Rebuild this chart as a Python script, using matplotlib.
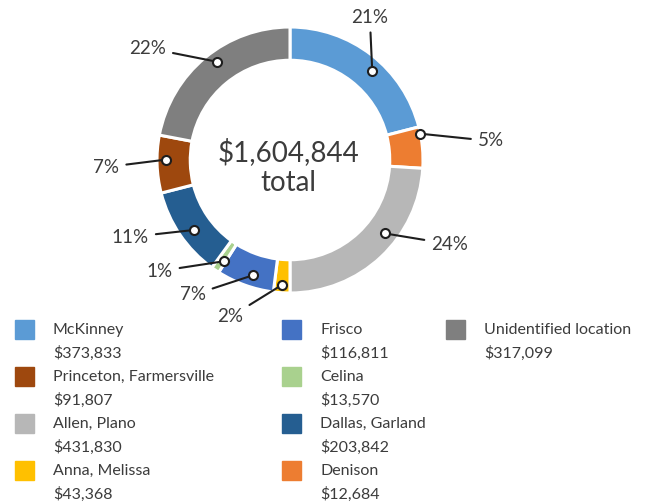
import matplotlib
matplotlib.use("Agg")
import matplotlib.pyplot as plt
import numpy as np

plt.rcParams['font.family'] = ['Lato', 'DejaVu Sans']

# data, in drawing order (clockwise from top)
names = ["McKinney", "Denison", "Allen, Plano", "Anna, Melissa", "Frisco",
         "Celina", "Dallas, Garland", "Princeton, Farmersville", "Unidentified location"]
amounts = [373833, 12684, 431830, 43368, 116811, 13570, 203842, 91807, 317099]
pcts = [21, 5, 24, 2, 7, 1, 11, 7, 22]
colors = ["#5b9bd5", "#ed7d31", "#b7b7b7", "#ffc000", "#4472c4",
          "#a9d18e", "#255e91", "#9e480e", "#7f7f7f"]

# legend layout: columns of names
legend_cols = [["McKinney", "Princeton, Farmersville", "Allen, Plano", "Anna, Melissa"],
               ["Frisco", "Celina", "Dallas, Garland", "Denison"],
               ["Unidentified location"]]

TXT = "#3c3c3c"
W, H = 660, 503
CX, CY, R = 290, 160, 133.0   # pixel centre / radius of the ring

fig = plt.figure(figsize=(W / 100, H / 100), dpi=100)
ax = fig.add_axes([0, 0, 1, 1])

wedges, _ = ax.pie(pcts, colors=colors, startangle=90, counterclock=False,
                   radius=1.0, center=(0, 0), frame=True,
                   wedgeprops=dict(width=0.25, edgecolor='white', linewidth=2.2))
ax.set_xlim(-CX / R, (W - CX) / R)
ax.set_ylim(-(H - CY) / R, CY / R)
ax.set_aspect('equal')
ax.axis('off')

# label placement (style): text position in ring units, marker radius, angle nudge
label_xy = [(0.60, 1.075), (1.51, 0.143), (1.20, -0.632), (-0.45, -1.18),
            (-0.73, -1.015), (-0.98, -0.835), (-1.20, -0.579), (-1.38, -0.053),
            (-1.07, 0.842)]
mark_r = [0.91, 1.0, 0.90, 0.94, 0.91, 0.91, 0.89, 0.93, 0.92]
mark_da = [-5, 6, 9, 0, 2, 1, 2, -2, -3]

for w, p, (tx, ty), mr, da in zip(wedges, pcts, label_xy, mark_r, mark_da):
    ang = np.deg2rad((w.theta1 + w.theta2) / 2 + da)
    mx, my = mr * np.cos(ang), mr * np.sin(ang)
    ax.annotate(f"{p}%", xy=(mx, my), xytext=(tx, ty), ha='center', va='center',
                fontsize=13.5, color=TXT,
                arrowprops=dict(arrowstyle='-', color='#1e1e1e', lw=1.5,
                                shrinkA=3, shrinkB=0))
    ax.plot(mx, my, 'o', ms=6.5, mfc='white', mec='#1e1e1e', mew=1.5, zorder=5)

total = sum(amounts)
ax.text(-0.015, 0.06, f"${total:,}", ha='center', va='center', fontsize=20, color=TXT)
ax.text(-0.015, -0.175, "total", ha='center', va='center', fontsize=20, color=TXT)

# legend drawn by hand
col_x = [24, 291, 455]
row_y = [329, 376, 423, 470]
for cx, col in zip(col_x, legend_cols):
    for ry, nm in zip(row_y, col):
        i = names.index(nm)
        fig.patches.append(plt.Rectangle(((cx - 9.5) / W, 1 - (ry + 9.5) / H), 19 / W, 19 / H,
                                         transform=fig.transFigure, color=colors[i]))
        fig.text((cx + 29) / W, 1 - (ry + 1) / H, nm, ha='left', va='center',
                 fontsize=11.5, color=TXT)
        fig.text((cx + 29) / W, 1 - (ry + 24) / H, f"${amounts[i]:,}", ha='left',
                 va='center', fontsize=11.5, color=TXT)

fig.savefig("out.png", dpi=100)
